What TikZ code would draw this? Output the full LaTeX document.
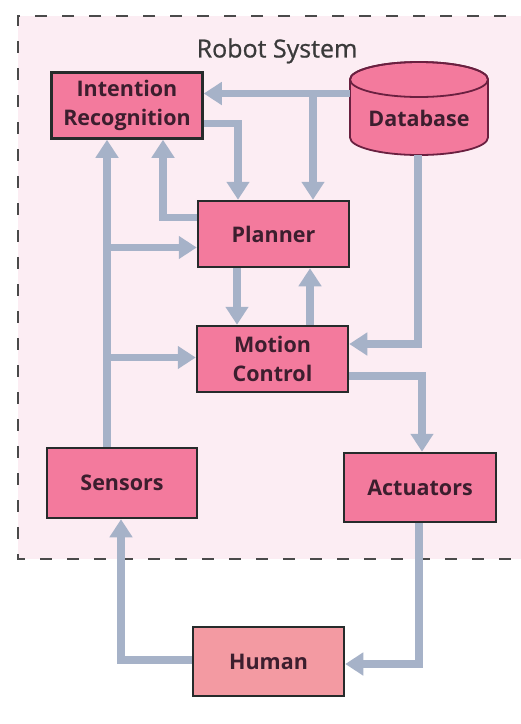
\documentclass[tikz,border=0pt]{standalone}
\usepackage{fontspec}
\setmainfont{Open Sans}
\newfontfamily\titlefont{Open Sans}[FakeBold=0.8]
\usetikzlibrary{arrows.meta}
\definecolor{sysbg}{HTML}{FCEDF3}
\definecolor{boxfill}{HTML}{F37A9D}
\definecolor{humanfill}{HTML}{F39AA2}
\definecolor{boxline}{HTML}{262B2B}
\definecolor{dbline}{HTML}{6A2040}
\definecolor{flowcol}{HTML}{A6B2C8}
\definecolor{labelcol}{HTML}{3C1E2E}
\definecolor{titlecol}{HTML}{3A3A3A}
\definecolor{framecol}{HTML}{4A4A4A}
\tikzset{
  block/.style={draw=boxline, line width=2.5pt, fill=boxfill, rectangle,
    minimum width=151pt, minimum height=66pt, inner sep=0pt,
    align=center, text=labelcol, font=\fontsize{21.5}{29}\selectfont\bfseries},
  flow/.style={draw=flowcol, line width=7.5pt, line join=miter,
    -{Triangle[width=22pt,length=18pt]}},
  frame/.style={draw=framecol, line width=2.5pt, dash pattern=on 12pt off 15pt}
}
\begin{document}
\begin{tikzpicture}[x=1pt,y=-1pt]
\useasboundingbox (0,0) rectangle (521,724);
\clip (0,0) rectangle (521,724);
\fill[white] (0,0) rectangle (521,724);

% system boundary
\fill[sysbg] (18,16) rectangle (560,559);
\draw[frame] (560,16) -- (18,16) -- (18,559) -- (560,559);
\node[text=titlecol, font=\titlefont\fontsize{25}{28}\selectfont] (title) at (277,51) {Robot System};

% components
\node[block] (ir) at (127,105.5) {Intention\\Recognition};
\node[block] (pl) at (273.5,234) {Planner};
\node[block] (mc) at (272.5,359) {Motion\\Control};
\node[block, minimum width=150pt, minimum height=70pt] (se) at (122,483) {Sensors};
\node[block, minimum width=152pt, minimum height=69pt] (ac) at (420,487.5) {Actuators};
\node[block, fill=humanfill, minimum height=69pt] (hu) at (268.5,661.5) {Human};

% database cylinder
\filldraw[fill=boxfill, draw=dbline, line width=1.8pt]
  (488,79.5) -- (488,137.5) arc[start angle=0, end angle=180, x radius=69, y radius=17.5]
  -- (350,79.5) arc[start angle=180, end angle=360, x radius=69, y radius=17.5] -- cycle;
\draw[dbline, line width=1.8pt] (419,79.5) ellipse[x radius=69, y radius=17.5];
\node[inner sep=0pt, minimum width=138pt, minimum height=93pt] (db) at (419,108.5) {};
\node[text=labelcol, font=\fontsize{21.5}{24}\selectfont\bfseries] (dbl) at (419,118) {Database};

% routing points
\coordinate (dbrow) at (313,93.5);
\coordinate (irout) at (238,123.5);
\coordinate (plback) at (163,217.5);
\coordinate (sbus) at (107,247.5);
\coordinate (sbus2) at (107,357.5);
\coordinate (dbdown) at (418,344);
\coordinate (mcout) at (422,376);
\coordinate (hufb) at (121,660);
\coordinate (acdown) at (419,664);

% connectors
\draw[flow] (dbrow -| db.west) -- (dbrow -| ir.east);
\draw[flow] (dbrow) -- (dbrow |- pl.north);
\draw[flow] (irout -| ir.east) -- (irout) -- (irout |- pl.north);
\draw[flow] (plback -| pl.west) -- (plback) -- (plback |- ir.south);
\draw[flow] (sbus |- se.north) -- (sbus |- ir.south);
\draw[flow] (sbus) -- (sbus -| pl.west);
\draw[flow] (sbus2) -- (sbus2 -| mc.west);
\draw[flow] (237,0 |- pl.south) -- (237,0 |- mc.north);
\draw[flow] (310,0 |- mc.north) -- (310,0 |- pl.south);
\draw[flow] (dbdown |- db.south) -- (dbdown) -- (dbdown -| mc.east);
\draw[flow] (mcout -| mc.east) -- (mcout) -- (mcout |- ac.north);
\draw[flow] (hufb -| hu.west) -- (hufb) -- (hufb |- se.south);
\draw[flow] (acdown |- ac.south) -- (acdown) -- (acdown -| hu.east);
\end{tikzpicture}
\end{document}
